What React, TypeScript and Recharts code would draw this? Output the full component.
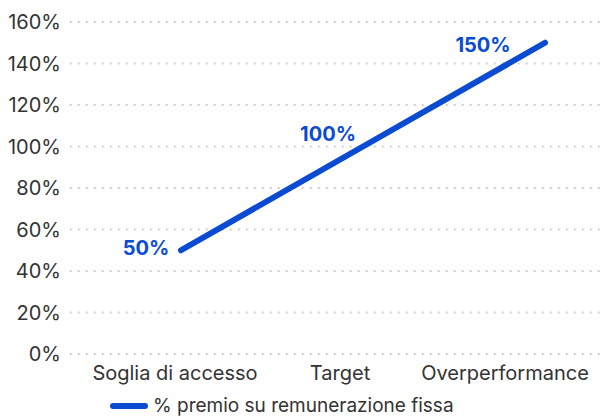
import { LineChart, Line, XAxis, YAxis, CartesianGrid, Legend, LabelList } from "recharts";

const CATEGORIES = ["Soglia di accesso", "Target", "Overperformance"];
const PREMIO = [50, 100, 150];
const Y_TICKS = [0, 20, 40, 60, 80, 100, 120, 140, 160];
const SERIES_NAME = "% premio su remunerazione fissa";

const BLUE = "#0a4bd2";
const TEXT = "#333333";
const FONT = "Inter, 'Noto Sans', sans-serif";

// label offsets relative to each point (dx, dy)
const LABEL_DX = [-35, -35, -62];
const LABEL_DY = [-2, -13, 2];

const data = CATEGORIES.map((name, i) => ({ name, value: PREMIO[i] }));

const PointLabel = (props: any) => {
  const { x, y, index, value } = props;
  return (
    <text
      x={x + LABEL_DX[index]}
      y={y + LABEL_DY[index]}
      textAnchor="middle"
      dominantBaseline="central"
      fill={BLUE}
      fontSize={20}
      fontWeight={700}
      fontFamily={FONT}
    >
      {`${value}%`}
    </text>
  );
};

const LegendContent = () => (
  <div
    style={{
      display: "flex",
      alignItems: "center",
      height: 20,
      lineHeight: "20px",
      fontFamily: FONT,
      fontSize: 19,
      color: TEXT,
      whiteSpace: "nowrap",
    }}
  >
    <svg width={38} height={10} style={{ marginRight: 5 }}>
      <line x1={3} y1={5} x2={35} y2={5} stroke={BLUE} strokeWidth={6} strokeLinecap="round" />
    </svg>
    <span>{SERIES_NAME}</span>
  </div>
);

export default function App() {
  return (
    <LineChart
      width={605}
      height={411}
      data={data}
      margin={{ top: 14, right: 0, bottom: 0, left: 0 }}
    >
      <CartesianGrid
        vertical={false}
        stroke="#c4c4c4"
        strokeWidth={2}
        strokeDasharray="1.5 6.5"
      />
      <XAxis
        dataKey="name"
        axisLine={false}
        tickLine={false}
        tickSize={0}
        tickMargin={12}
        height={43}
        padding={{ left: 105, right: 108 }}
        tick={{ fill: TEXT, fontSize: 20, fontFamily: FONT }}
        interval={0}
      />
      <XAxis
        xAxisId="pts"
        dataKey="name"
        hide
        padding={{ left: 111, right: 68 }}
      />
      <YAxis
        domain={[0, 160]}
        ticks={Y_TICKS}
        width={62}
        axisLine={false}
        tickLine={false}
        tickSize={0}
        tickMargin={9}
        tickFormatter={(v) => `${v}%`}
        tick={{ fill: TEXT, fontSize: 20, fontFamily: FONT }}
      />
      <Legend
        verticalAlign="bottom"
        align="left"
        height={22}
        wrapperStyle={{ left: 102, bottom: 1 }}
        content={<LegendContent />}
      />
      <Line
        xAxisId="pts"
        dataKey="value"
        name={SERIES_NAME}
        stroke={BLUE}
        strokeWidth={6}
        strokeLinecap="round"
        dot={false}
        activeDot={false}
        isAnimationActive={false}
      >
        <LabelList dataKey="value" content={<PointLabel />} />
      </Line>
    </LineChart>
  );
}
